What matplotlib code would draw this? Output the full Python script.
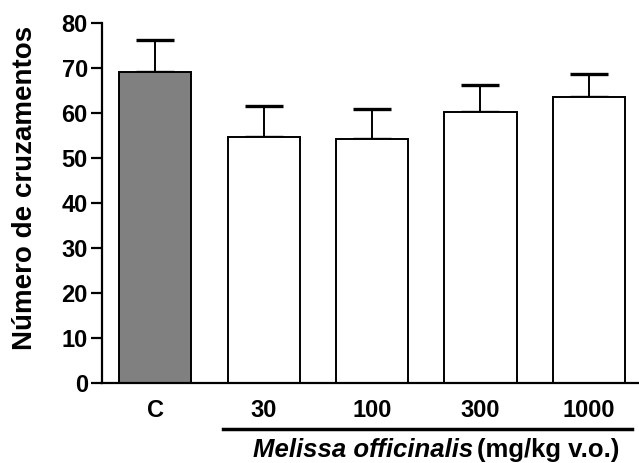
import matplotlib
matplotlib.use("Agg")
import matplotlib.pyplot as plt
from matplotlib.lines import Line2D

# group means and SEM
groups = ["C", "30", "100", "300", "1000"]
means = [69.1, 54.7, 54.3, 60.2, 63.5]
sem = [7.0, 6.7, 6.6, 6.0, 5.1]
fill_colors = ["#808080", "white", "white", "white", "white"]
y_ticks = [0, 10, 20, 30, 40, 50, 60, 70, 80]

plt.rcParams["font.family"] = ["Liberation Sans", "DejaVu Sans"]
plt.rcParams["font.weight"] = "bold"

fig = plt.figure(figsize=(6.39, 4.63), dpi=100)
ax = fig.add_axes([0.1592, 0.1721, 0.8408, 0.779])

x = list(range(len(groups)))
ax.bar(x, means, width=0.667, color=fill_colors, edgecolor="black",
       linewidth=1.4, zorder=2)
ax.errorbar(x, means, yerr=[[0] * len(sem), sem], fmt="none", ecolor="black",
            elinewidth=1.4, capsize=13.5, capthick=2.4, zorder=1)

ax.set_xlim(-0.494, 4.463)
ax.set_ylim(0, 80)
ax.set_yticks(y_ticks)
ax.set_xticks(x)
ax.set_xticklabels(groups)

for side in ("top", "right"):
    ax.spines[side].set_visible(False)
for side in ("left", "bottom"):
    ax.spines[side].set_linewidth(1.6)

ax.tick_params(axis="y", length=8, width=1.6, pad=2, labelsize=17)
ax.tick_params(axis="x", length=0, pad=11, labelsize=17)
for lbl in ax.get_xticklabels() + ax.get_yticklabels():
    lbl.set_fontweight("bold")

fig.text(25 / 639, 1 - 187.5 / 463, "Número de cruzamentos", rotation=90,
         ha="center", va="center", fontsize=20, fontweight="bold")

# bracket line under the dose groups
fig.add_artist(Line2D([223.3 / 639, 631.7 / 639], [1 - 429 / 463, 1 - 429 / 463],
                      color="black", linewidth=2.5))

xlab_y = 1 - 450 / 463
fig.text(473 / 639, xlab_y, "Melissa officinalis", ha="right", va="center",
         fontsize=18.5, fontweight="bold", fontstyle="italic")
fig.text(477 / 639, xlab_y, "(mg/kg v.o.)", ha="left", va="center",
         fontsize=18.5, fontweight="bold")

fig.savefig("out.png", dpi=100)
